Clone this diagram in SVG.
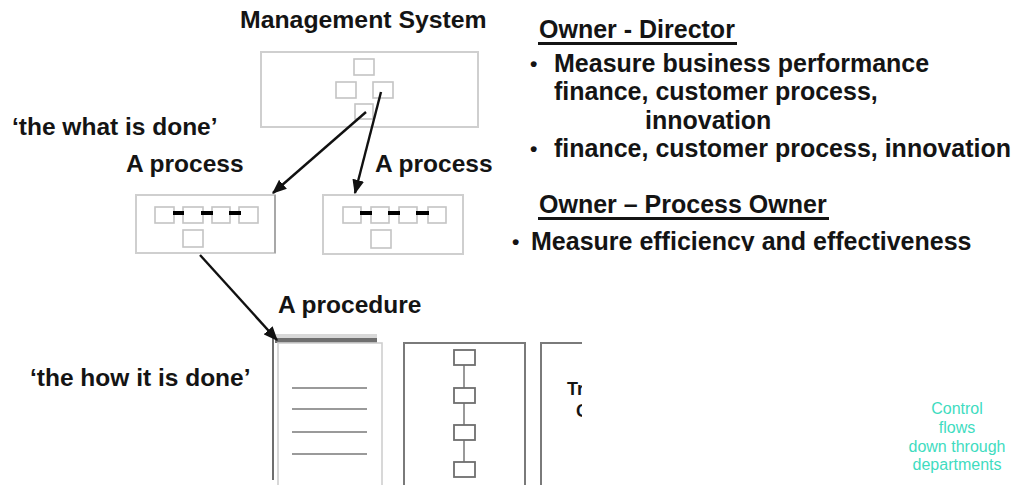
<svg xmlns="http://www.w3.org/2000/svg" width="1014" height="485" viewBox="0 0 1014 485">
<style>
.t{font-family:"Liberation Sans",Arial,sans-serif;font-weight:bold;fill:#141414}
.l{font-size:24.5px}
.r{font-size:25px}
.b{font-size:21px}
.box{fill:#fff;stroke:#cfcfcf;stroke-width:2}
.sq{fill:#fff;stroke:#c4c4c4;stroke-width:1.6}
.bar{fill:#000}
.pbox{fill:#fff;stroke:#7a7a7a;stroke-width:2}
.chain{fill:#fff;stroke:#6e6e6e;stroke-width:1.8}
.cl{stroke:#777;stroke-width:1.5}
.pl{stroke:#9a9a9a;stroke-width:2}
.con{stroke:#111;stroke-width:2.4;fill:none;marker-end:url(#ah)}
.g{font-family:"Liberation Sans",Arial,sans-serif;font-size:16px;fill:#3fdcbf;text-anchor:middle}
</style>
<defs>
<marker id="ah" viewBox="0 0 12 10" refX="11" refY="5" markerWidth="6" markerHeight="5" orient="auto" markerUnits="strokeWidth">
<path d="M0,0 L12,5 L0,10 z" fill="#111"/>
</marker>
<clipPath id="cut"><rect x="0" y="0" width="582" height="485"/></clipPath>
<clipPath id="cut2"><rect x="500" y="190" width="514" height="61"/></clipPath>
</defs>
<rect width="1014" height="485" fill="#fff"/>

<g id="management-system">
<text class="t l" x="240" y="28" style="font-size:24.8px">Management System</text>
<rect class="box" x="261" y="52" width="217" height="75"/>
<rect class="sq" x="354" y="59" width="20" height="16"/>
<rect class="sq" x="336" y="82" width="20" height="16"/>
<rect class="sq" x="373" y="82" width="20" height="16"/>
<rect class="sq" x="355" y="104" width="18" height="15"/>
</g>

<g id="label-what">
<text class="t l" x="12" y="135">‘the what is done’</text>
</g>

<g id="process-a">
<text class="t l" x="126" y="172">A process</text>
<rect class="box" x="136" y="195" width="139" height="58"/>
<line x1="275" y1="195" x2="275" y2="253" stroke="#a8a8a8" stroke-width="2"/>
<rect class="sq" x="155" y="207" width="19" height="16"/>
<rect class="sq" x="183" y="207" width="20" height="16"/>
<rect class="sq" x="212" y="207" width="18" height="16"/>
<rect class="sq" x="239" y="207" width="19" height="16"/>
<rect class="bar" x="173" y="211" width="11" height="4"/>
<rect class="bar" x="201" y="211" width="12" height="4"/>
<rect class="bar" x="229" y="211" width="12" height="4"/>
<rect class="sq" x="183" y="230" width="20" height="17"/>
</g>

<g id="process-b">
<text class="t l" x="375" y="172">A process</text>
<rect class="box" x="323" y="195" width="140" height="59"/>
<rect class="sq" x="343" y="207" width="18" height="16"/>
<rect class="sq" x="371" y="207" width="18" height="16"/>
<rect class="sq" x="399" y="207" width="18" height="16"/>
<rect class="sq" x="428" y="207" width="18" height="16"/>
<rect class="bar" x="360" y="211" width="12" height="4"/>
<rect class="bar" x="388" y="211" width="12" height="4"/>
<rect class="bar" x="416" y="211" width="13" height="4"/>
<rect class="sq" x="371" y="230" width="20" height="18"/>
</g>

<g id="procedure-doc">
<text class="t l" x="278" y="313">A procedure</text>
<rect x="273" y="334" width="104" height="4" fill="#d8d8d8"/>
<rect x="275" y="338" width="102" height="5" fill="#6f6f6f"/>
<line x1="273" y1="338" x2="273" y2="480" stroke="#6f6f6f" stroke-width="2"/>
<rect x="278" y="343" width="104" height="150" fill="#fff" stroke="#cfcfcf" stroke-width="1.6"/>
<line class="pl" x1="292" y1="388" x2="367" y2="388"/>
<line class="pl" x1="292" y1="409" x2="367" y2="409"/>
<line class="pl" x1="292" y1="432" x2="367" y2="432"/>
<line class="pl" x1="292" y1="454" x2="367" y2="454"/>
</g>

<g id="procedure-chain">
<rect class="pbox" x="404" y="343" width="121" height="150"/>
<line class="cl" x1="464" y1="365" x2="464" y2="388"/>
<line class="cl" x1="464" y1="403" x2="464" y2="425"/>
<line class="cl" x1="464" y1="440" x2="464" y2="462"/>
<rect class="chain" x="454" y="350" width="21" height="15"/>
<rect class="chain" x="454" y="388" width="21" height="15"/>
<rect class="chain" x="454" y="425" width="21" height="15"/>
<rect class="chain" x="454" y="462" width="21" height="15"/>
</g>

<g id="procedure-text" clip-path="url(#cut)">
<rect class="pbox" x="541" y="343" width="120" height="150"/>
<text class="t" style="font-size:18px" x="567" y="395">Tr</text>
<text class="t" style="font-size:18px" x="576" y="417">C</text>
</g>

<g id="label-how">
<text class="t l" x="30" y="386">‘the how it is done’</text>
</g>

<g id="owner-director">
<text class="t r" x="539" y="38">Owner - Director</text>
<rect x="538" y="42" width="199" height="3" fill="#141414"/>
<text class="t b" x="530" y="71">•</text>
<text class="t r" x="554" y="72">Measure business performance</text>
<text class="t r" x="554" y="100">finance, customer process,</text>
<text class="t r" x="645" y="129">innovation</text>
<text class="t b" x="530" y="156">•</text>
<text class="t r" x="554" y="157">finance, customer process, innovation</text>
</g>

<g id="owner-process">
<g clip-path="url(#cut2)">
<text class="t r" x="539" y="213">Owner – Process Owner</text>
<rect x="538" y="217" width="291" height="3" fill="#141414"/>
<text class="t b" x="512" y="249">•</text>
<text class="t r" x="531" y="250">Measure efficiency and effectiveness</text>
</g>
</g>

<g id="note">
<text class="g" x="957" y="414">Control</text>
<text class="g" x="957" y="433">flows</text>
<text class="g" x="957" y="452">down through</text>
<text class="g" x="957" y="470">departments</text>
</g>

<g id="connectors">
<line class="con" x1="381" y1="92" x2="355" y2="193"/>
<line class="con" x1="366" y1="112" x2="273" y2="193"/>
<line class="con" x1="200" y1="255" x2="277" y2="340"/>
</g>
</svg>
